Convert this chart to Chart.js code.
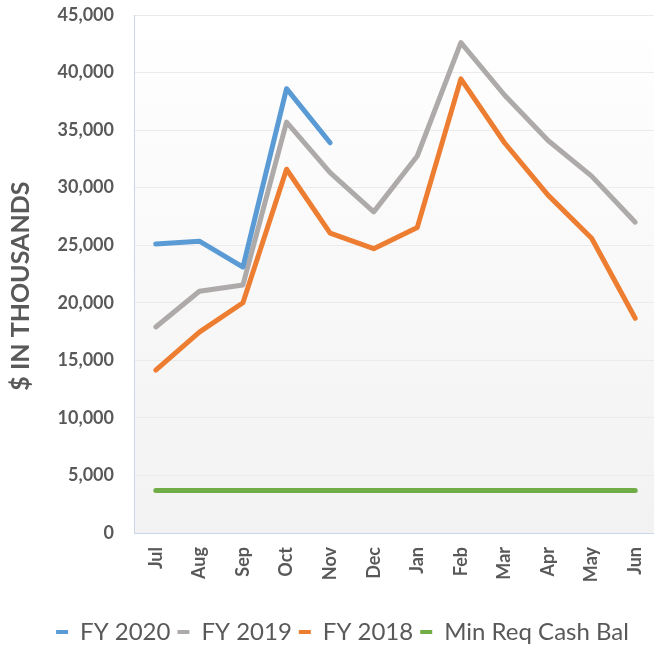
<!DOCTYPE html>
<html>
<head>
<meta charset="utf-8">
<script src="https://cdn.jsdelivr.net/npm/chart.js@4/dist/chart.umd.min.js"></script>
<style>
  html, body { margin: 0; padding: 0; background: #fff; overflow: hidden; }
  #wrap { width: 654px; height: 647px; overflow: hidden; }
</style>
</head>
<body>
<div id="wrap"><canvas id="cashChart" width="660" height="654"></canvas></div>
<script>
const months = ['Jul', 'Aug', 'Sep', 'Oct', 'Nov', 'Dec', 'Jan', 'Feb', 'Mar', 'Apr', 'May', 'Jun'];
const fy2020 = [25100, 25350, 23100, 38600, 33900, null, null, null, null, null, null, null];
const fy2019 = [17900, 21000, 21550, 35700, 31300, 27900, 32750, 42600, 38050, 34100, 31000, 27000];
const fy2018 = [14150, 17450, 20000, 31600, 26050, 24700, 26550, 39450, 33900, 29350, 25600, 18650];
const minCash = [3700, 3700, 3700, 3700, 3700, 3700, 3700, 3700, 3700, 3700, 3700, 3700];

const textGray = '#595959';
const fontFamily = 'Lato, "Open Sans", sans-serif';

// plot area background: white at top fading to light gray
const plotBg = {
  id: 'plotBg',
  beforeDraw(chart) {
    const { ctx, chartArea: a } = chart;
    const g = ctx.createLinearGradient(0, a.top, 0, a.bottom);
    g.addColorStop(0, '#ffffff');
    g.addColorStop(1, '#f2f2f2');
    ctx.save();
    ctx.fillStyle = g;
    ctx.fillRect(a.left, a.top, a.right - a.left, a.bottom - a.top);
    ctx.restore();
  }
};

function series(label, data, color) {
  return {
    label: label,
    data: data,
    borderColor: color,
    backgroundColor: color,
    borderWidth: 5,
    pointRadius: 0,
    borderCapStyle: 'round',
    borderJoinStyle: 'round',
    tension: 0,
    fill: false
  };
}

const ctx = document.getElementById('cashChart').getContext('2d');
const cashChart = new Chart(ctx, {
  type: 'line',
  data: {
    labels: months,
    datasets: [
      series('FY 2020', fy2020, '#5B9BD5'),
      series('FY 2019', fy2019, '#AEAAAA'),
      series('FY 2018', fy2018, '#ED7D31'),
      series('Min Req Cash Bal', minCash, '#70AD47')
    ]
  },
  plugins: [plotBg],
  options: {
    responsive: false,
    animation: false,
    layout: { padding: { top: 15, right: 3, bottom: 0, left: 28 } },
    plugins: {
      tooltip: { enabled: false },
      legend: {
        position: 'bottom',
        labels: {
          color: textGray,
          font: { family: fontFamily, size: 24 },
          boxWidth: 12,
          boxHeight: 4,
          padding: 7,
          generateLabels: chart =>
            Chart.defaults.plugins.legend.labels.generateLabels(chart).map(l => ({
              ...l, lineWidth: 0, fillStyle: l.strokeStyle
            }))
        }
      }
    },
    scales: {
      x: {
        offset: true,
        grid: { display: false, drawTicks: false },
        border: { color: '#C9D7E8', width: 1 },
        ticks: {
          color: textGray,
          font: { family: fontFamily, size: 18, weight: 'bold' },
          maxRotation: 90,
          minRotation: 90,
          padding: 14
        },
        afterFit: s => { s.height = 80; s.paddingLeft = 0; s.paddingRight = 0; }
      },
      y: {
        min: 0,
        max: 45000,
        grid: { color: '#EBEBEB', drawTicks: false },
        border: { color: '#C9D7E8', width: 1 },
        ticks: {
          stepSize: 5000,
          color: textGray,
          font: { family: fontFamily, size: 18, weight: 'bold' },
          padding: 20,
          callback: v => v.toLocaleString('en-US')
        },
        title: {
          display: true,
          text: '$ IN THOUSANDS\u00A0\u00A0\u00A0\u00A0',
          color: textGray,
          font: { family: fontFamily, size: 25, weight: 'bold' },
          padding: { top: -22, bottom: 0 }
        },
        afterFit: s => { s.width = 106; s.paddingTop = 0; s.paddingBottom = 0; }
      }
    }
  }
});
</script>
</body>
</html>
